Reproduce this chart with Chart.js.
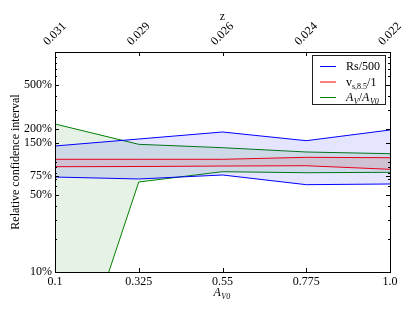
<!DOCTYPE html>
<html>
<head>
<meta charset="utf-8">
<script src="https://cdn.jsdelivr.net/npm/chart.js@4.4.0/dist/chart.umd.min.js"></script>
<style>
  body { margin: 0; background: #fff; }
  canvas { display: block; }
</style>
</head>
<body>
<canvas id="chart" width="415" height="312"></canvas>
<script>
// A_V0 positions on the bottom axis, matching redshift labels on top
const aV0 = [0.1, 0.325, 0.55, 0.775, 1.0];
const xTickLabels = ['0.1', '0.325', '0.55', '0.775', '1.0'];
const zLabels = ['0.031', '0.029', '0.026', '0.024', '0.022'];
const yTicks = [10, 50, 75, 150, 200, 500];

// relative confidence interval bounds, in percent
const rsUpper = [139.8, 161.8, 187.4, 156.2, 195.4];
const rsLower = [73.0, 70.1, 76.2, 62.2, 63.1];
const vsUpper = [105.8, 105.8, 105.8, 110.3, 109.4];
const vsLower = [90.6, 91.0, 91.9, 92.5, 85.8];
const avUpper = [221.5, 144.8, 134.9, 123.3, 119.0];
const avLower = [0.34, 65.8, 81.6, 79.9, 80.6];

const legendLabels = [
  [{ t: 'Rs/500' }],
  [{ t: 'v' }, { t: 's,8.5', sub: true }, { t: '/1' }],
  [{ t: 'A', it: true }, { t: 'V', it: true, sub: true }, { t: '/' }, { t: 'A', it: true }, { t: 'V0', it: true, sub: true }]
];
const colors = ['#0000ff', '#ff0000', '#008000'];
const fills = ['rgba(0,0,255,0.1)', 'rgba(255,0,0,0.1)', 'rgba(0,128,0,0.1)'];

const FONT = 'Liberation Serif';
Chart.defaults.font.family = FONT;
Chart.defaults.font.size = 11;
Chart.defaults.color = '#000';

function pts(vals) {
  return vals.map((v, i) => ({ x: aV0[i], y: v }));
}

function band(lower, upper, k) {
  return [
    { data: pts(lower), borderColor: colors[k], borderWidth: 1, pointRadius: 0, fill: false, tension: 0 },
    { data: pts(upper), borderColor: colors[k], borderWidth: 1, pointRadius: 0, fill: '-1', backgroundColor: fills[k], tension: 0 }
  ];
}

// draw a run of text pieces with italics / subscripts
function drawParts(ctx, parts, x, y) {
  parts.forEach(p => {
    const size = p.sub ? 8 : 12;
    ctx.font = (p.it ? 'italic ' : '') + size + 'px "' + FONT + '"';
    ctx.fillText(p.t, x, p.sub ? y + 3 : y);
    x += ctx.measureText(p.t).width + (p.it && !p.sub ? 0.5 : 0);
  });
  return x;
}

const decor = {
  id: 'decor',
  afterDraw(chart) {
    const ctx = chart.ctx;
    const a = chart.chartArea;
    const xs = chart.scales.x;
    const ys = chart.scales.y;
    ctx.save();

    // frame
    ctx.strokeStyle = '#000';
    ctx.lineWidth = 1;
    ctx.strokeRect(Math.round(a.left) + 0.5, Math.round(a.top) + 0.5, Math.round(a.right - a.left), Math.round(a.bottom - a.top));

    // inward ticks
    ctx.beginPath();
    aV0.forEach(v => {
      const px = Math.round(xs.getPixelForValue(v)) + 0.5;
      ctx.moveTo(px, a.bottom); ctx.lineTo(px, a.bottom - 4);
      ctx.moveTo(px, a.top); ctx.lineTo(px, a.top + 4);
    });
    for (let d = 10; d <= 1000; d *= 10) {
      for (let m = 1; m <= 9; m++) {
        const v = d * m;
        if (v < 10 || v > 1000) continue;
        const len = yTicks.includes(v) ? 4 : 2;
        const py = Math.round(ys.getPixelForValue(v)) + 0.5;
        ctx.moveTo(a.left, py); ctx.lineTo(a.left + len, py);
        ctx.moveTo(a.right, py); ctx.lineTo(a.right - len, py);
      }
    }
    yTicks.forEach(v => {
      const py = Math.round(ys.getPixelForValue(v)) + 0.5;
      ctx.moveTo(a.left, py); ctx.lineTo(a.left + 4, py);
      ctx.moveTo(a.right, py); ctx.lineTo(a.right - 4, py);
    });
    ctx.stroke();

    // top axis: redshift
    ctx.fillStyle = '#000';
    ctx.font = '12px "' + FONT + '"';
    ctx.textAlign = 'center';
    ctx.textBaseline = 'middle';
    zLabels.forEach((lab, i) => {
      const px = xs.getPixelForValue(aV0[i]);
      ctx.save();
      ctx.translate(px, 34);
      ctx.rotate(-Math.PI / 4);
      ctx.fillText(lab, 0, 0);
      ctx.restore();
    });
    ctx.fillText('z', (a.left + a.right) / 2, 17);

    // bottom axis title A_V0
    ctx.textAlign = 'left';
    ctx.textBaseline = 'alphabetic';
    drawParts(ctx, [{ t: 'A', it: true }, { t: 'V0', it: true, sub: true }], (a.left + a.right) / 2 - 9, 296);

    // legend
    const bx = 312.5, by = 55.5, bw = 73, bh = 49;
    ctx.fillStyle = '#fff';
    ctx.fillRect(bx, by, bw, bh);
    ctx.strokeStyle = '#222';
    ctx.strokeRect(bx, by, bw, bh);
    legendLabels.forEach((parts, i) => {
      const ry = 66 + i * 15.5;
      ctx.strokeStyle = colors[i];
      ctx.beginPath();
      ctx.moveTo(320, ry + 0.5); ctx.lineTo(336, ry + 0.5);
      ctx.stroke();
      ctx.fillStyle = '#000';
      drawParts(ctx, parts, 346, ry + 4);
    });
    ctx.restore();
  }
};

new Chart(document.getElementById('chart'), {
  type: 'line',
  data: {
    datasets: [
      ...band(rsLower, rsUpper, 0),
      ...band(vsLower, vsUpper, 1),
      ...band(avLower, avUpper, 2)
    ]
  },
  options: {
    responsive: false,
    animation: false,
    devicePixelRatio: 1,
    layout: { padding: { top: 52, right: 25, left: 0, bottom: 0 } },
    plugins: { legend: { display: false }, tooltip: { enabled: false } },
    scales: {
      x: {
        type: 'linear',
        min: 0.1,
        max: 1.0,
        grid: { display: false, drawTicks: false },
        border: { display: false },
        afterBuildTicks: s => { s.ticks = aV0.map(v => ({ value: v })); },
        afterFit: s => { s.height = 40; },
        ticks: {
          autoSkip: false,
          maxRotation: 0,
          padding: 3,
          font: { size: 12 },
          callback: (v, i) => xTickLabels[i]
        }
      },
      y: {
        type: 'logarithmic',
        min: 10,
        max: 1000,
        grid: { display: false, drawTicks: false },
        border: { display: false },
        afterBuildTicks: s => { s.ticks = yTicks.map(v => ({ value: v })); },
        afterFit: s => { s.width = 55; },
        ticks: {
          autoSkip: false,
          padding: 3,
          font: { size: 12 },
          callback: v => v + '%'
        },
        title: {
          display: true,
          text: 'Relative confidence interval',
          font: { size: 12 },
          padding: { top: 9, bottom: 0 }
        }
      }
    }
  },
  plugins: [decor]
});
</script>
</body>
</html>
